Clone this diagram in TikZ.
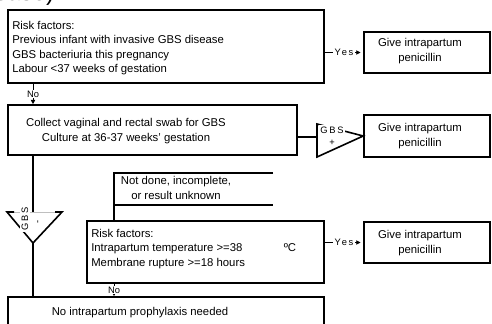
\documentclass[tikz,border=0pt]{standalone}
\usepackage{fontspec}
\setmainfont{Liberation Sans}
\newfontfamily\spacedfont[LetterSpace=18]{Liberation Sans}
\usetikzlibrary{fit,arrows.meta,positioning}

\tikzset{
  box/.style={draw,line width=1.2pt,inner sep=0pt},
  txt/.style={inner sep=0pt,font=\fontsize{8.5}{10.8}\selectfont},
  link/.style={line width=1.2pt},
  flow/.style={line width=0.7pt,-{Triangle[length=3.2pt,width=3.2pt]}},
  tag/.style={fill=white,inner sep=1pt,font=\fontsize{7}{8}\spacedfont},
  notag/.style={fill=white,inner sep=0.5pt,font=\fontsize{7}{8}\selectfont},
}

\begin{document}
\begin{tikzpicture}[x=0.75pt,y=-0.75pt]
\useasboundingbox (0,0) rectangle (492,324);
\clip (0,0) rectangle (492,324);

% what is left of the heading
\node[anchor=base east,inner sep=0pt,font=\fontsize{18}{20}\selectfont] (head) at (61,1) {disease).};

\coordinate (lane) at (33,0);
\coordinate (nd) at (114,173);

% boxes
\node[box,fit={(8,10) (324,83)}] (risk1) {};
\node[txt,anchor=north west,align=left] (risk1text) at (12,21)
  {Risk factors:\\Previous infant with invasive GBS disease\\GBS bacteriuria this pregnancy\\Labour <37 weeks of gestation};

\node[box,fit={(364,32) (490,73)}] (give1) {};
\node[txt,align=center] (give1text) at (420,51) {Give intrapartum\\penicillin};

\node[box,fit={(8,105) (297,155)}] (swab) {};
\node[txt,align=center] (swabtext) at (126,131) {Collect vaginal and rectal swab for GBS\\Culture at 36-37 weeks' gestation};

\node[box,fit={(364,115) (490,157)}] (give2) {};
\node[txt,align=center] (give2text) at (420,136) {Give intrapartum\\penicillin};

\node[box,fit={(87,221) (324,283)}] (risk2) {};
\node[txt,anchor=north west,align=left] (risk2text) at (91,229)
  {Risk factors:\\Intrapartum temperature >=38\\Membrane rupture >=18 hours};
\node[txt] (degc) at (290,248) {ºC};

\node[box,fit={(364,222) (490,263)}] (give3) {};
\node[txt,align=center] (give3text) at (420,243) {Give intrapartum\\penicillin};

\node[box,fit={(8,297) (324,340)}] (none) {};
\node[txt] (nonetext) at (140,313) {No intrapartum prophylaxis needed};

% open box
\draw[link] (273,173) -- (nd) -- (risk2.north -| nd);
\draw[link] (nd |- 0,205) -- (273,205);
\node[txt,align=center] (notdone) at (176,188) {Not done, incomplete,\\or result unknown};

% GBS + triangle
\coordinate (pin) at (317,137);
\draw[link] (pin) ++(0,-13) -- (give2.west) -- (317,157) -- cycle;
\draw[link] (swab.east |- pin) -- (pin);
\node[tag] (pos1) at (332,130) {GBS};
\node[tag] (pos2) at (332,143) {+};

% GBS - triangle
\coordinate (ntop) at (33,212);
\coordinate (ntip) at (33,243);
\draw[gray!50,line width=0.4pt] (14,212) -- (55,212);
\draw[link] (14,212) -- (7,212) -- (ntip) -- (62,212) -- (55,212);
\draw[link] (swab.south -| lane) -- (ntop);
\draw[link] (ntip) -- (none.north -| lane);
\node[tag,rotate=90] (neg1) at (25,219) {GBS};
\node[tag,rotate=90] (neg2) at (39,222) {-};

% connectors
\draw[flow,shorten >=2pt] (risk1.east |- give1.west) -- node[tag] {Yes} (give1.west);
\draw[flow,shorten >=2pt] (risk2.east |- give3.west) -- node[tag] {Yes} (give3.west);
\draw[flow] (risk1.south -| lane) -- node[notag] {No} (swab.north -| lane);
\draw[flow] (risk2.south -| nd) -- node[notag] {No} (none.north -| nd);
\end{tikzpicture}
\end{document}
